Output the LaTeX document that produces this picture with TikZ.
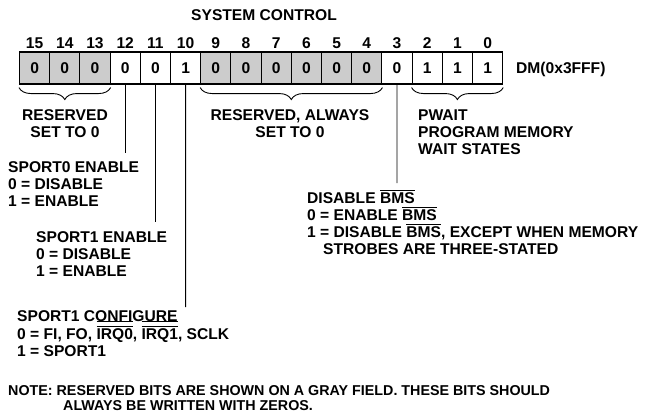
\documentclass[tikz,border=0pt]{standalone}
\usepackage{fontspec}
\setmainfont{Liberation Sans}
\usetikzlibrary{decorations.pathreplacing}
\newcommand\olbar[1]{\setbox0=\hbox{#1}\rlap{\rule[\dimexpr\ht0+1.6pt\relax]{\wd0}{0.9pt}}\box0}
\newcommand\olbarx[1]{\setbox0=\hbox{#1}\rlap{\rule[\dimexpr\ht0+1.6pt\relax]{\wd0}{0.9pt}}\rlap{\rule[\dimexpr\ht0+6.6pt\relax]{\wd0}{0.9pt}}\box0}
\begin{document}
\begin{tikzpicture}[x=1pt,y=-1pt,
  txt/.style={inner sep=0pt, anchor=base west, font=\fontsize{15.6}{17}\selectfont\bfseries},
  notetxt/.style={inner sep=0pt, anchor=base west, font=\fontsize{14.3}{15}\selectfont\bfseries},
  cellbase/.style={draw, line width=1.1pt, minimum width=30.2pt, minimum height=32pt, inner sep=0pt, font=\fontsize{15.6}{17}\selectfont\bfseries},
  cell0/.style={cellbase, fill=white},
  cell1/.style={cellbase, fill=gray!40},
  conn/.style={line width=0.9pt},
  brc/.style={decorate, decoration={brace, mirror, amplitude=12pt}, line width=0.9pt}]
\useasboundingbox (0,0) rectangle (649,413);
\node[txt, anchor=base] (title) at (264,20.6) {SYSTEM CONTROL};
\foreach \i/\v/\g in {15/0/1,14/0/1,13/0/1,12/0/0,11/0/0,10/1/0,9/0/1,8/0/1,7/0/1,6/0/1,5/0/1,4/0/1,3/0/0,2/1/0,1/1/0,0/1/0}{
  \node[cell\g] (b\i) at ({34.6+30.2*(15-\i)},68) {\v};
  \node[txt, anchor=base] (n\i) at ({34.6+30.2*(15-\i)},48.5) {\i};
}
\node[txt] (dm) at (516,73.5) {DM(0x3FFF)};
% braces
\draw[brc] ([yshift=-3pt]b15.south west) -- ([yshift=-3pt]b13.south east);
\draw[brc] ([yshift=-3pt]b9.south west) -- ([yshift=-3pt]b4.south east);
\draw[brc] ([yshift=-3pt]b2.south west) -- ([yshift=-3pt]b0.south east);
% brace labels
\node[txt, anchor=base] (r1a) at (65,120.5) {RESERVED};
\node[txt, anchor=base] (r1b) at (65,137.5) {SET TO 0};
\node[txt, anchor=base] (r2a) at (290,120.5) {RESERVED, ALWAYS};
\node[txt, anchor=base] (r2b) at (290,137.5) {SET TO 0};
\node[txt] (pw1) at (418,120.5) {PWAIT};
\node[txt] (pw2) at (418,137.5) {PROGRAM MEMORY};
\node[txt] (pw3) at (418,154.5) {WAIT STATES};
% connectors
\coordinate (e12) at (125.2,153);
\coordinate (e11) at (155.4,222);
\coordinate (e10) at (185.6,307);
\coordinate (e3) at (397,183);
\draw[conn] (b12.south) -- (e12);
\draw[conn] (b11.south) -- (e11);
\draw[conn] (b10.south) -- (e10);
\draw[conn] (b3.south) -- (e3);
% descriptions
\node[txt] (s0a) at (8,172.5) {SPORT0 ENABLE};
\node[txt] (s0b) at (8,189.5) {0 = DISABLE};
\node[txt] (s0c) at (8,206.5) {1 = ENABLE};
\node[txt] (s1a) at (36,242.5) {SPORT1 ENABLE};
\node[txt] (s1b) at (36,259.5) {0 = DISABLE};
\node[txt] (s1c) at (36,276.5) {1 = ENABLE};
\node[txt] (bm1) at (307,203.5) {DISABLE \olbar{BMS}};
\node[txt] (bm2) at (307,220.5) {0 = ENABLE \olbar{BMS}};
\node[txt] (bm3) at (307,237.5) {1 = DISABLE \olbar{BMS}, EXCEPT WHEN MEMORY};
\node[txt] (bm4) at (323,254.5) {STROBES ARE THREE-STATED};
\node[txt] (cf1) at (17,321) {SPORT1 CONFIGURE};
\node[txt] (cf2) at (17,339) {0 = FI, FO, \olbarx{IRQ0}, \olbarx{IRQ1}, SCLK};
\node[txt] (cf3) at (17,356.5) {1 = SPORT1};
\node[notetxt] (nt1) at (8,395.1) {NOTE: RESERVED BITS ARE SHOWN ON A GRAY FIELD. THESE BITS SHOULD};
\node[notetxt] (nt2) at (63,410.1) {ALWAYS BE WRITTEN WITH ZEROS.};
\end{tikzpicture}
\end{document}
